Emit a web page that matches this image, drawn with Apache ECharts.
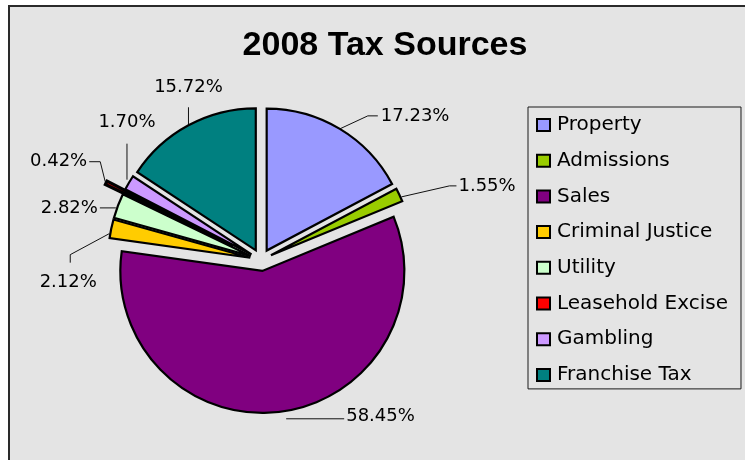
<!DOCTYPE html>
<html>
<head>
<meta charset="utf-8">
<title>2008 Tax Sources</title>
<script src="https://cdn.jsdelivr.net/npm/echarts@6/dist/echarts.min.js"></script>
<style>
  html, body { margin: 0; padding: 0; background: #ffffff; overflow: hidden; }
  #frame {
    position: absolute; left: 8px; top: 5px; width: 745px; height: 460px;
    border-left: 2px solid #2a2a2a; border-top: 2px solid #2a2a2a;
    background: #e4e4e4;
  }
  #chart { position: absolute; left: 0; top: 0; width: 745px; height: 460px; }
</style>
</head>
<body>
<div id="frame"></div>
<div id="chart"></div>
<script>
// Revenue sources and their share of the total (percent)
const categories = ['Property', 'Admissions', 'Sales', 'Criminal Justice', 'Utility', 'Leasehold Excise', 'Gambling', 'Franchise Tax'];
const shares = [17.23, 1.55, 58.45, 2.12, 2.82, 0.42, 1.70, 15.72];

// Slice fills, in category order
const sliceColors = ['#9999FF', '#99CC00', '#800080', '#FFCC00', '#CCFFCC', '#FF0000', '#CC99FF', '#008080'];

// Pie geometry; every wedge is pulled out from the centre along its bisector
const PIE_CENTER = [261, 260];
const PIE_RADIUS = 142;
const explodeBy = [11, 11, 11, 11, 11, 31, 11, 11];
const outlineWidth = [2.2, 2.2, 2.2, 2.2, 2.2, 3.2, 2.2, 2.2];

// Leader lines: bend points measured from the wedge's outer edge, then where the text sits
const leaders = [
  { path: [[0, 0], [28, -13], [38, -13]], text: [41, -13], align: 'left' },
  { path: [[2, 2], [50, -9], [57, -9]], text: [59, -9], align: 'left' },
  { path: [[6, 7], [64, 7]], text: [66, 5], align: 'left' },
  { path: [[-2, 5], [-41, 26], [-41, 34]], text: [-43, 54], align: 'center' },
  { path: [[-2, 2], [-18, 2]], text: [-20, 2], align: 'right' },
  { path: [[-1, -1], [-6, -21], [-17, -21]], text: [-19, -21], align: 'right' },
  { path: [[-2, -3], [-2, -39]], text: [-2, -60], align: 'center' },
  { path: [[0, 4], [0, -18]], text: [0, -38], align: 'center' }
];

// Bisector angle of every wedge, clockwise from 12 o'clock
const total = shares.reduce((a, b) => a + b, 0);
const midAngles = [];
let running = 0;
shares.forEach(v => {
  midAngles.push((running + v / 2) / total * Math.PI * 2);
  running += v;
});

const FONT = "'DejaVu Sans', 'Noto Sans', sans-serif";
const HIDDEN = { color: 'rgba(0,0,0,0)', borderWidth: 0 };

// Places a wedge's percentage at the end of its leader line
function placeLabel(params) {
  if (params.dataIndex !== params.seriesIndex || !params.labelLinePoints) {
    return {};
  }
  const L = leaders[params.dataIndex];
  const p0 = params.labelLinePoints[0];
  return {
    x: p0[0] + L.text[0],
    y: p0[1] + L.text[1],
    align: L.align,
    verticalAlign: 'middle',
    labelLinePoints: L.path.map(d => [p0[0] + d[0], p0[1] + d[1]])
  };
}

// One pie layer per wedge: the layer shares the full data set (so angles come
// from the pie layout) but only paints and labels its own wedge, with its
// centre shifted outward by the explode distance.
const wedgeLayers = categories.map((own, k) => {
  const a = midAngles[k];
  return {
    name: own,
    type: 'pie',
    center: [PIE_CENTER[0] + Math.sin(a) * explodeBy[k], PIE_CENTER[1] - Math.cos(a) * explodeBy[k]],
    radius: PIE_RADIUS,
    startAngle: 90,
    clockwise: true,
    avoidLabelOverlap: false,
    selectedMode: false,
    silent: true,
    emphasis: { disabled: true },
    itemStyle: { borderColor: '#000', borderWidth: outlineWidth[k], borderJoin: 'miter' },
    label: {
      show: true,
      position: 'outside',
      fontFamily: FONT,
      fontSize: 18,
      color: '#000',
      formatter: p => p.value.toFixed(2) + '%'
    },
    labelLine: {
      show: true,
      length: 10,
      length2: 10,
      lineStyle: { color: '#111', width: 1 }
    },
    labelLayout: placeLabel,
    data: categories.map((name, j) => (j === k
      ? { name: name, value: shares[j], itemStyle: { color: sliceColors[j] } }
      : { name: name, value: shares[j], itemStyle: HIDDEN, label: { show: false }, labelLine: { show: false } }))
  };
});

const chart = echarts.init(document.getElementById('chart'), null, { renderer: 'canvas' });

chart.setOption({
  animation: false,
  backgroundColor: 'transparent',
  title: {
    text: '2008 Tax Sources',
    left: 380,
    top: 24,
    textAlign: 'center',
    textStyle: {
      fontFamily: "'Liberation Sans', Arial, sans-serif",
      fontWeight: 'bold',
      fontSize: 34,
      color: '#000'
    }
  },
  legend: {
    orient: 'vertical',
    left: 528,
    top: 107,
    padding: [8, 13, 4, 8],
    itemWidth: 13,
    itemHeight: 12,
    itemGap: 15.7,
    borderColor: '#1a1a1a',
    borderWidth: 1,
    selectedMode: false,
    data: categories.map((name, i) => ({
      name: name,
      icon: 'rect',
      itemStyle: { color: sliceColors[i], borderColor: '#000', borderWidth: 2 }
    })),
    textStyle: {
      fontFamily: FONT,
      fontSize: 20,
      lineHeight: 20,
      color: '#000',
      padding: [0, 0, 0, 2]
    }
  },
  series: wedgeLayers
});
</script>
</body>
</html>
